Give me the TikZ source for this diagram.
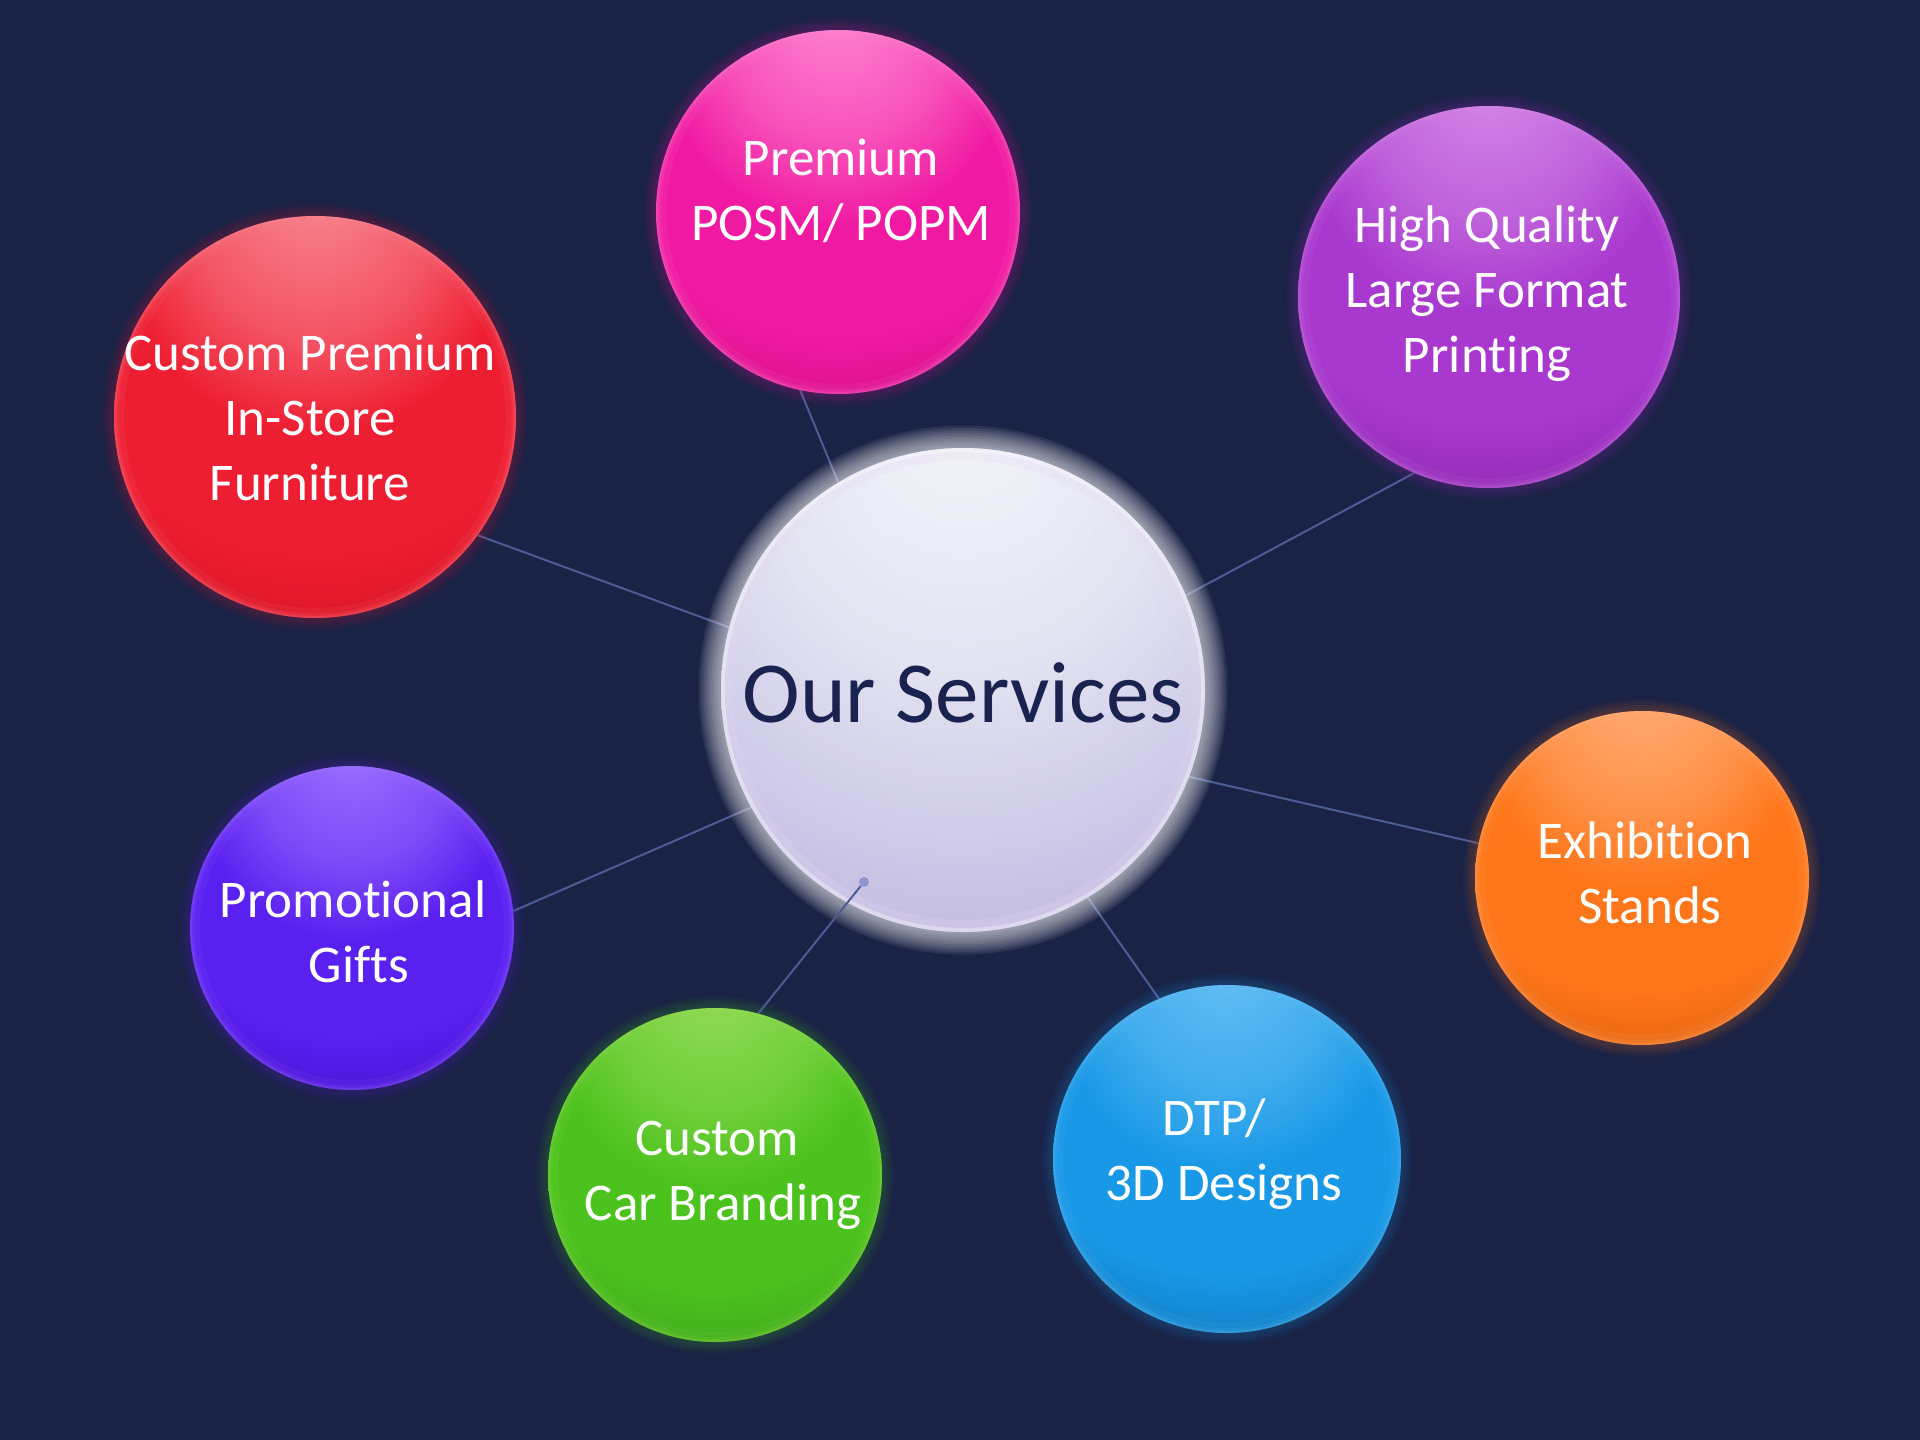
\documentclass[tikz,border=0pt]{standalone}
\usepackage{fontspec}
\setmainfont{Carlito}[Ligatures=NoCommon]
\pgfdeclarelayer{bglayer}
\pgfdeclarelayer{lineslayer}
\pgfdeclarelayer{glowlayer}
\pgfdeclarelayer{frontlayer}
\pgfsetlayers{bglayer,lineslayer,glowlayer,main,frontlayer}

\definecolor{bgc}{HTML}{1A2245}
\definecolor{connc}{HTML}{4E5C94}
\definecolor{dotc}{HTML}{8E96D0}
\definecolor{navy}{HTML}{1A2250}
% red
\definecolor{RL}{HTML}{F98A96}\definecolor{RM}{HTML}{EE1E32}\definecolor{RD}{HTML}{BC0616}
% pink
\definecolor{PL}{HTML}{FF8AD2}\definecolor{PM}{HTML}{F01AA2}\definecolor{PD}{HTML}{B8006C}
% violet
\definecolor{VL}{HTML}{D68AE8}\definecolor{VM}{HTML}{A838CE}\definecolor{VD}{HTML}{6C168C}
% indigo
\definecolor{IL}{HTML}{A074FF}\definecolor{IM}{HTML}{5A20F0}\definecolor{ID}{HTML}{3400AE}
% green
\definecolor{GL}{HTML}{96DC58}\definecolor{GM}{HTML}{4CC21E}\definecolor{GD}{HTML}{308618}
% blue
\definecolor{CL}{HTML}{68C0F4}\definecolor{CM}{HTML}{1898E6}\definecolor{CD}{HTML}{07558F}
% orange
\definecolor{OL}{HTML}{FFAE7A}\definecolor{OM}{HTML}{FF761A}\definecolor{OD}{HTML}{BC4E04}
% hub
\definecolor{hubA}{HTML}{F4F5FA}\definecolor{hubB}{HTML}{E4E4F2}\definecolor{hubC}{HTML}{C6C0E3}\definecolor{hubD}{HTML}{B0A6D8}
\definecolor{hubR}{HTML}{E4D8F0}

\newcommand\mkballshading[1]{%
  \colorlet{#1LM}{#1L!50!#1M}%
  \colorlet{#1MD}{#1M!50!#1D}%
  \pgfdeclareradialshading{ball#1}{\pgfpoint{0bp}{30bp}}{%
    color(0bp)=(#1L); color(15bp)=(#1LM); color(24bp)=(#1M);
    color(35bp)=(#1M); color(45bp)=(#1MD); color(55bp)=(#1D); color(90bp)=(#1D)}}
\mkballshading{R}\mkballshading{P}\mkballshading{V}\mkballshading{I}
\mkballshading{G}\mkballshading{C}\mkballshading{O}
\pgfdeclareradialshading{hubshade}{\pgfpoint{0bp}{30bp}}{%
  color(0bp)=(hubA); color(20bp)=(hubB); color(40bp)=(hubC);
  color(52bp)=(hubD); color(90bp)=(hubD)}

\tikzset{
  ballnode/.style={circle, inner sep=0pt, draw=none, shade},
  svctext/.style={text=white, align=center, inner sep=0pt, anchor=base,
    font=\fontsize{53}{65}\selectfont},
  hubtext/.style={text=navy, align=center, inner sep=0pt, anchor=base,
    font=\fontsize{87}{100}\selectfont},
  conn/.style={draw=connc, line width=2pt},
}

% #1 name, #2 x, #3 y, #4 radius, #5 colour prefix
\newcommand\svcball[5]{%
  \node[ballnode, minimum size=#4*2pt, shading=ball#5] (#1) at (#2,#3) {};
  \begin{scope}
    \clip (#1.center) circle[radius=#4pt];
    \draw[#5L, line width=20pt, opacity=0.09] (#1.center) circle[radius=#4pt];
    \draw[#5L, line width=9pt, opacity=0.12] (#1.center) circle[radius=#4pt];
    \draw[#5L, line width=4pt, opacity=0.20] (#1.center) circle[radius=#4pt];
  \end{scope}
  \begin{pgfonlayer}{glowlayer}
    \foreach \k in {1,...,6}{%
      \fill[#5M, opacity=0.04] (#1.center) circle[radius={(#4+2*\k)*1pt}];}
  \end{pgfonlayer}%
}

\begin{document}
\begin{tikzpicture}[x=1pt, y=-1pt]
\begin{pgfonlayer}{bglayer}
  \fill[bgc] (0,0) rectangle (1920,1440);
\end{pgfonlayer}
\useasboundingbox (0,0) rectangle (1920,1440);

% hub
\node[ballnode, minimum size=484pt, shading=hubshade] (hub) at (963,690) {};
\begin{scope}
  \clip (hub.center) circle[radius=242pt];
  \draw[hubR, line width=24pt, opacity=0.25] (hub.center) circle[radius=242pt];
  \draw[white, line width=8pt, opacity=0.35] (hub.center) circle[radius=242pt];
\end{scope}
\begin{pgfonlayer}{glowlayer}
  \foreach \k in {1,...,9}{%
    \fill[white, opacity=0.085] (hub.center) circle[radius={(242+2.5*\k)*1pt}];}
\end{pgfonlayer}

% service balls
\svcball{red}{315}{417}{201}{R}
\svcball{pink}{838}{212}{182}{P}
\svcball{hq}{1489}{297}{191}{V}
\svcball{promo}{352}{928}{162}{I}
\svcball{car}{715}{1175}{167}{G}
\svcball{dtp}{1227}{1159}{174}{C}
\svcball{exh}{1642}{878}{167}{O}

% texts (anchor at baseline of last line)
\node[hubtext] (hubt) at (963,722) {Our Services};
\node[svctext] (redt) at (310,500) {Custom Premium\\In-Store\\Furniture};
\node[svctext] (pinkt) at (841,240) {Premium\\POSM/ POPM};
\node[svctext] (hqt) at (1487,372) {High Quality\\Large Format\\Printing};
\node[svctext] (promot) at (353,982) {Promotional\\\rule{12pt}{0pt}Gifts};
\node[svctext] (cart) at (723,1220) {Custom\rule{12pt}{0pt}\\Car Branding};
\node[svctext] (dtpt) at (1224,1200) {DTP/\rule{20pt}{0pt}\\3D Designs};
\node[svctext] (exht) at (1645,923) {Exhibition\\\rule{10pt}{0pt}Stands};

% connectors
\begin{pgfonlayer}{lineslayer}
  \draw[conn] (pink.258) -- (hub.121);
  \draw[conn] (hq.247) -- (hub.23);
  \draw[conn] (red.-36) -- (hub.165);
  \draw[conn] (promo.6) -- (hub.209.5);
  \draw[conn] (dtp.113) -- (hub.-59);
  \draw[conn] (exh.168) -- (hub.-21);
\end{pgfonlayer}
\begin{pgfonlayer}{frontlayer}
  \node[circle, fill=dotc, minimum size=10pt, inner sep=0pt] (dot) at (864,882) {};
  \draw[conn] (car.75) -- (dot);
\end{pgfonlayer}
\end{tikzpicture}
\end{document}
